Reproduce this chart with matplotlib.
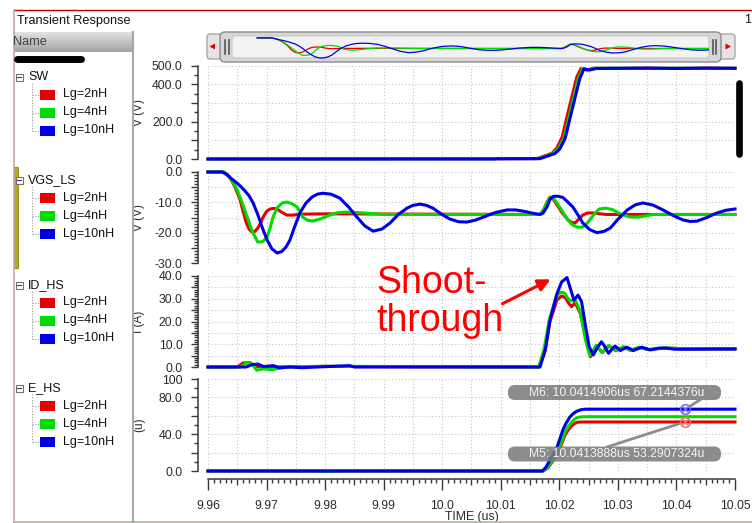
import numpy as np
import matplotlib.pyplot as plt
from matplotlib.patches import Rectangle, FancyBboxPatch, Polygon
from matplotlib.colors import LinearSegmentedColormap
from matplotlib.ticker import FixedLocator, MultipleLocator

plt.rcParams['font.family'] = ['Liberation Sans', 'DejaVu Sans']

# -------------------------------------------------------------
# Dados (tempo em us)
series_labels = ['Lg=2nH', 'Lg=4nH', 'Lg=10nH']
series_colors = ['#e80000', '#00dc00', '#0000e6']
group_names = ['SW', 'VGS_LS', 'ID_HS', 'E_HS']

# SW (V)
sw_t_2n = [9.96, 10.0162, 10.0180, 10.0188, 10.0196, 10.0205, 10.0213, 10.0222, 10.0230, 10.0237, 10.0247, 10.0258, 10.030, 10.035, 10.040, 10.045, 10.05]
sw_v_2n = [0, 2, 22, 32, 60, 118, 225, 340, 440, 483, 476, 485, 484, 486, 484, 486, 485]
sw_t_4n = [9.96, 10.0165, 10.0182, 10.0190, 10.0199, 10.0208, 10.0216, 10.0225, 10.0233, 10.0240, 10.0250, 10.0260, 10.030, 10.035, 10.040, 10.045, 10.05]
sw_v_4n = [0, 2, 21, 31, 58, 112, 218, 335, 436, 483, 476, 485, 486, 484, 486, 484, 485]
sw_t_10n = [9.96, 10.0090, 10.0092, 10.0167, 10.0184, 10.0193, 10.0201, 10.0210, 10.0218, 10.0227, 10.0235, 10.0242, 10.0252, 10.0263, 10.030, 10.035, 10.040, 10.045, 10.05]
sw_v_10n = [0, 0, 1, 2, 20, 30, 55, 110, 215, 330, 430, 482, 476, 484, 485, 486, 484, 486, 485]

# VGS_LS (V)
vgs_t_2n = [9.96, 9.9626, 9.9632, 9.9638, 9.9645, 9.9650, 9.9655, 9.9660, 9.9665, 9.9670, 9.9675, 9.9680, 9.9685, 9.9690,
            9.9694, 9.9700, 9.9706, 9.9712, 9.9718, 9.9726, 9.9735, 9.9745, 9.9757, 9.9800, 10.0167, 10.0173, 10.0179,
            10.0184, 10.0190, 10.0196, 10.0205, 10.0215, 10.0221, 10.0227, 10.0233, 10.0240, 10.0248, 10.0257, 10.0280, 10.05]
vgs_v_2n = [0, 0, -0.8, -2.0, -4.5, -6.8, -9.2, -13.0, -16.5, -18.8, -19.8, -19.6, -18.5, -16.8,
            -14.9, -13.0, -12.2, -12.0, -12.2, -13.3, -14.2, -14.2, -13.9, -13.8, -14.0, -12.5, -10.0,
            -8.3, -9.0, -10.8, -13.5, -15.8, -16.6, -16.8, -15.6, -14.2, -13.5, -13.5, -14.0, -14.0]
vgs_t_4n = [9.96, 9.9628, 9.9635, 9.9642, 9.9650, 9.9658, 9.9667, 9.9676, 9.9685, 9.9693, 9.9701, 9.9706, 9.9711, 9.9718,
            9.9727, 9.9735, 9.9744, 9.9752, 9.9762, 9.9770, 9.9779, 9.9793, 9.9808, 9.9822, 9.9837, 9.9851, 9.9865, 9.9900,
            10.0167, 10.0173, 10.0179, 10.0184, 10.0190, 10.0197, 10.0206, 10.0215, 10.0223, 10.0231, 10.0239, 10.0246,
            10.0252, 10.0260, 10.0268, 10.0280, 10.0292, 10.0300, 10.0309, 10.0320, 10.0333, 10.0347, 10.0360, 10.05]
vgs_v_4n = [0, 0, -1.2, -3.2, -5.9, -10.0, -14.9, -19.8, -23.1, -23.0, -21.5, -18.5, -14.9, -11.8,
            -10.2, -9.9, -10.5, -11.5, -14.9, -15.9, -16.2, -15.4, -14.2, -13.4, -13.2, -13.3, -13.5, -14.0,
            -14.0, -12.5, -10.0, -8.3, -8.6, -10.5, -13.2, -16.0, -17.5, -18.2, -18.2, -17.2,
            -15.8, -13.8, -12.2, -11.9, -12.5, -13.4, -14.2, -14.8, -14.9, -14.5, -14.0, -14.0]
vgs_t_10n = [9.96, 9.9624, 9.9632, 9.9640, 9.9648, 9.9655, 9.9662, 9.9670, 9.9677, 9.9685, 9.9693, 9.9701, 9.9709, 9.9718,
             9.9726, 9.9733, 9.9740, 9.9748, 9.9757, 9.9767, 9.9778, 9.9787, 9.9796, 9.9810, 9.9825, 9.9840, 9.9854, 9.9868,
             9.9882, 9.9897, 9.9911, 9.9925, 9.9940, 9.9950, 9.9962, 9.9973, 9.9984, 9.9998, 10.0013, 10.0028, 10.0042,
             10.0056, 10.0070, 10.0090, 10.0111, 10.0125, 10.0138, 10.0155, 10.0167, 10.0172, 10.0179, 10.0184, 10.0190,
             10.0198, 10.0206, 10.0214, 10.0223, 10.0232, 10.0240, 10.0252, 10.0264, 10.0276, 10.0287, 10.0300, 10.0316,
             10.0330, 10.0343, 10.0360, 10.0377, 10.0394, 10.0411, 10.0423, 10.0435, 10.0452, 10.0469, 10.0485, 10.05]
vgs_v_10n = [0, 0, -0.8, -2.2, -3.4, -4.6, -6.0, -7.8, -10.2, -14.0, -18.5, -22.4, -25.3, -26.7,
             -26.2, -24.8, -22.4, -18.0, -13.5, -10.3, -8.2, -7.3, -7.0, -7.3, -8.6, -11.5, -14.8, -17.8,
             -19.5, -18.8, -16.8, -14.0, -11.9, -11.0, -10.6, -11.0, -11.9, -13.8, -15.5, -16.4, -16.5,
             -15.9, -14.9, -13.4, -12.5, -12.5, -12.9, -13.6, -14.0, -13.6, -11.5, -9.0, -8.0,
             -8.0, -8.4, -9.8, -11.5, -14.2, -16.8, -19.0, -20.0, -19.6, -18.5, -15.6, -12.5,
             -10.8, -10.2, -10.9, -12.5, -14.3, -15.8, -16.3, -16.2, -15.0, -13.5, -12.6, -12.2]

# ID_HS (A)
id_t_2n = [9.96, 9.9650, 9.9660, 9.9672, 9.9680, 9.9700, 9.9800, 9.9850, 10.0165, 10.0176, 10.0184, 10.0196, 10.0204, 10.0210, 10.0216,
           10.0221, 10.0227, 10.0236, 10.0246, 10.0253, 10.0264, 10.0274, 10.0285, 10.0297, 10.0310, 10.0322, 10.0337, 10.0352,
           10.0380, 10.0420, 10.05]
id_v_2n = [0, 0, 1.8, 1.9, 0.3, 0, 0.3, 0.2, 0, 7.5, 20.0, 29.5, 31.2, 30.5, 28.0,
           26.5, 28.2, 23.5, 11.9, 4.5, 8.6, 6.5, 9.3, 7.2, 8.8, 7.4, 8.6, 7.7,
           8.3, 8.0, 8.0]
id_t_4n = [9.96, 9.9655, 9.9665, 9.9675, 9.9683, 9.9695, 9.9710, 9.9730, 9.9800, 10.0165, 10.0174, 10.0183, 10.0195, 10.0202, 10.0209,
           10.0215, 10.0221, 10.0227, 10.0235, 10.0245, 10.0252, 10.0263, 10.0273, 10.0284, 10.0296, 10.0309, 10.0321, 10.0336,
           10.0352, 10.0380, 10.0420, 10.05]
id_v_4n = [0, 0, 1.8, 1.5, -1.4, -0.8, -1.2, 0, 0.3, 0, 8.0, 21.0, 31.0, 32.9, 32.5,
           30.0, 29.0, 29.5, 25.0, 11.5, 5.0, 9.6, 6.3, 9.5, 7.1, 8.9, 7.3, 8.7,
           7.6, 8.4, 8.0, 8.0]
id_t_10n = [9.96, 9.9665, 9.9675, 9.9685, 9.9695, 9.9712, 9.9722, 9.9740, 9.9760, 9.9842, 9.9850, 10.0167, 10.0176, 10.0184, 10.0196,
            10.0204, 10.0213, 10.0218, 10.0225, 10.0232, 10.0238, 10.0244, 10.0251, 10.0258, 10.0265, 10.0272, 10.0278, 10.0284,
            10.0290, 10.0295, 10.0300, 10.0304, 10.0310, 10.0315, 10.0321, 10.0326, 10.0334, 10.0341, 10.0348, 10.0355,
            10.0370, 10.0383, 10.0397, 10.0411, 10.05]
id_v_10n = [0, 0, 1.0, 1.3, 0.2, 0.6, -0.4, 0, -0.3, 0.6, 0, 0, 7.5, 20.6, 32.3,
            37.4, 39.3, 35.2, 29.4, 31.6, 28.7, 19.1, 8.9, 5.3, 8.6, 11.1, 8.8, 6.0,
            7.9, 9.2, 8.2, 7.2, 8.0, 8.7, 8.0, 7.2, 8.0, 8.7, 8.1, 7.5,
            8.3, 8.3, 7.8, 7.8, 7.9]

# E_HS (u)
e_t_2n = [9.96, 10.0172, 10.0180, 10.0188, 10.0196, 10.0203, 10.0209, 10.0215, 10.0221, 10.0226, 10.0231, 10.0240, 10.05]
e_v_2n = [0, 0, 3, 10, 18, 28, 38, 44.5, 49, 51.6, 53, 53.3, 53.3]
e_t_4n = [9.96, 9.9790, 9.9792, 9.9815, 9.9817, 10.0173, 10.0179, 10.0188, 10.0196, 10.0203, 10.0209, 10.0215, 10.0221,
          10.0226, 10.0231, 10.0240, 10.05]
e_v_4n = [0, 0, -0.4, -0.4, 0, 0, 3, 11, 19.6, 30.5, 41, 48, 53, 56.2, 58.2, 59.0, 59.0]
e_t_10n = [9.96, 10.0171, 10.0177, 10.0184, 10.0190, 10.0196, 10.0201, 10.0206, 10.0212, 10.0218, 10.0224, 10.0230, 10.0237, 10.0244, 10.05]
e_v_10n = [0, 0, 4, 12, 18.5, 26, 35, 44.6, 52.5, 58.7, 62.5, 65, 66.6, 67.2, 67.2]

# Marcadores
m_names = ['M6', 'M5']
m_t = [10.0414906, 10.0413888]
m_v = [67.2144376, 53.2907324]
m_colors = ['#6a6aff', '#ff6a6a']

# Eixos: rótulos dos ticks
sw_label_at, sw_label_txt = [0, 200, 400, 500], ['0.0', '200.0', '400.0', '500.0']
vgs_label_at, vgs_label_txt = [-30, -20, -10, 0], ['-30.0', '-20.0', '-10.0', '0.0']
id_label_at, id_label_txt = [0, 10, 20, 30, 40], ['0.0', '10.0', '20.0', '30.0', '40.0']
e_label_at, e_label_txt = [0, 40, 80, 100], ['0.0', '40.0', '80.0', '100']
x_label_at = [9.96, 9.97, 9.98, 9.99, 10.0, 10.01, 10.02, 10.03, 10.04, 10.05]
x_label_txt = ['9.96', '9.97', '9.98', '9.99', '10.0', '10.01', '10.02', '10.03', '10.04', '10.05']

# -------------------------------------------------------------
W, H = 752, 523
fig = plt.figure(figsize=(W / 100, H / 100), dpi=100)
fig.patch.set_facecolor('white')


def box(x0, y0, x1, y1, **kw):
    # retângulo em pixels (origem no topo)
    return fig.add_axes([x0 / W, 1 - y1 / H, (x1 - x0) / W, (y1 - y0) / H], **kw)


X0, X1 = 208, 735
TXT = '#2a2a2a'
AXC = '#3a3a3a'

strips = [
    # topo, base, ylim, passo maior, passo menor, ylabel, dados, rótulos
    (65.5, 159, (0, 500), 100, 50, 'V (V)',
     [(sw_t_2n, sw_v_2n), (sw_t_4n, sw_v_4n), (sw_t_10n, sw_v_10n)], sw_label_at, sw_label_txt),
    (172, 263, (-30, 0), 5, 1, 'V (V)',
     [(vgs_t_2n, vgs_v_2n), (vgs_t_4n, vgs_v_4n), (vgs_t_10n, vgs_v_10n)], vgs_label_at, vgs_label_txt),
    (276, 367, (0, 40), 5, 1, 'I (A)',
     [(id_t_2n, id_v_2n), (id_t_4n, id_v_4n), (id_t_10n, id_v_10n)], id_label_at, id_label_txt),
    (379, 471, (0, 100), 20, 10, '(u)',
     [(e_t_2n, e_v_2n), (e_t_4n, e_v_4n), (e_t_10n, e_v_10n)], e_label_at, e_label_txt),
]

x_major = np.round(np.arange(9.96, 10.0501, 0.005), 3)
axes = []
for k, (top, bot, ylim, major, minor, ylab, data, lab_at, lab_txt) in enumerate(strips):
    ax = box(X0, top, X1, bot)
    ax.set_facecolor('none')
    ax.set_xlim(9.96, 10.05)
    ax.set_ylim(*ylim)
    ax.spines['top'].set_visible(False)
    ax.spines['right'].set_visible(False)
    ax.spines['left'].set_position(('outward', 7.2))
    ax.spines['left'].set_color(AXC)
    ax.spines['left'].set_linewidth(1.1)

    yt = np.arange(ylim[0], ylim[1] + major / 2, major)
    ax.yaxis.set_major_locator(FixedLocator(yt))
    labs = []
    for v in yt:
        hit = [t for a, t in zip(lab_at, lab_txt) if np.isclose(a, v)]
        labs.append(hit[0] if hit else '')
    ax.set_yticklabels(labs)
    ax.yaxis.set_minor_locator(MultipleLocator(minor))
    ax.tick_params(axis='y', which='major', length=5, width=1, color=AXC,
                   labelsize=8.8, labelcolor=TXT, pad=6)
    ax.tick_params(axis='y', which='minor', length=3, width=1, color=AXC)

    ax.xaxis.set_major_locator(FixedLocator(x_major))
    ax.grid(True, which='major', color='#c4c4c4', linestyle=(0, (1, 2)), linewidth=0.8)
    ax.set_axisbelow(True)

    if k < 3:
        ax.spines['bottom'].set_visible(False)
        ax.tick_params(axis='x', which='both', length=0, labelbottom=False)
    else:
        ax.spines['bottom'].set_position(('outward', 5.8))
        ax.spines['bottom'].set_color(AXC)
        ax.spines['bottom'].set_linewidth(1.1)
        xl = []
        for v in x_major:
            hit = [t for a, t in zip(x_label_at, x_label_txt) if np.isclose(a, v)]
            xl.append(hit[0] if hit else '')
        ax.set_xticklabels(xl)
        ax.xaxis.set_minor_locator(MultipleLocator(0.001))
        ax.tick_params(axis='x', which='major', length=8, width=1, color=AXC,
                       labelsize=8.8, labelcolor=TXT, pad=7)
        ax.tick_params(axis='x', which='minor', length=3, width=1, color=AXC)
        for j, tk in enumerate(ax.xaxis.get_major_ticks()):
            if j % 2 == 1:
                tk.tick1line.set_markersize(4.5)
        ax.set_xlabel('TIME (us)', fontsize=8.8, color=TXT)
        ax.xaxis.set_label_coords(0.5, -(517 - bot) / (bot - top))
        ax.xaxis.label.set_va('center')

    ax.set_ylabel(ylab, fontsize=8.5, color=TXT)
    ax.yaxis.set_label_coords((139 - X0) / (X1 - X0), 0.5)
    ax.yaxis.label.set_va('center')

    for (t, v), c in zip(data, series_colors):
        ax.plot(t, v, color=c, lw=2.2, clip_on=False, solid_joinstyle='round', zorder=3)
    axes.append(ax)

ax_e = axes[3]
for t, v, c in zip(m_t, m_v, m_colors):
    ax_e.plot(t, v, 'o', ms=7, mfc='none', mec=c, mew=1.1, clip_on=False, zorder=5)
    ax_e.plot(t, v, 'x', ms=5, mec=c, mew=1.0, clip_on=False, zorder=5)

# -------------------------------------------------------------
# Cabeçalho "Name"
hdr = box(14, 32, 133, 52)
hdr.imshow(np.linspace(0, 1, 32)[:, None], aspect='auto', extent=(0, 1, 0, 1),
           cmap=LinearSegmentedColormap.from_list('hdr', ['#e2e2e2', '#a4a4a4']))
hdr.axis('off')

# Camada de sobreposição em pixels
ov = fig.add_axes([0, 0, 1, 1])
ov.set_xlim(0, W)
ov.set_ylim(H, 0)
ov.axis('off')
ov.set_zorder(10)

# moldura
ov.plot([14, W], [10, 10], color='#b80000', lw=1.0)
ov.plot([14, 14], [10, 522], color='#c8a8a8', lw=1.2)
ov.plot([14, W], [522, 522], color='#c8a8a8', lw=1.2)
ov.plot([133, 133], [32, 522], color='#a8a8a8', lw=1.5)

ov.text(17, 21, 'Transient Response', fontsize=9.2, color='#111111', va='center', ha='left')
ov.text(744, 20, '1', fontsize=9, color='#111111', va='center', ha='left')
ov.text(13, 42, 'Name', fontsize=9.2, color='#404040', va='center', ha='left')

ov.plot([17, 81], [58.5, 58.5], color='black', lw=5, solid_capstyle='round')
ov.add_patch(Rectangle((14, 167), 3.5, 101, fc='#b0a820', ec='#8a8400', lw=0.6))

# árvore de sinais
group_y = [77, 180, 285, 388]
for name, hy in zip(group_names, group_y):
    ov.add_patch(Rectangle((15.5, hy - 3.5), 7, 7, fc='white', ec='#707070', lw=0.8))
    ov.plot([17, 21], [hy, hy], color='#404040', lw=0.8)
    ov.text(28, hy, name, fontsize=9, color='#111111', va='center', ha='left')
    ys = [hy + 17.5 + 18 * i for i in range(len(series_labels))]
    ov.plot([31.5, 31.5], [hy + 6, ys[-1]], color='#9a9a9a', lw=0.8, ls=(0, (1, 1.5)))
    for y, lab, c in zip(ys, series_labels, series_colors):
        ov.plot([31.5, 39], [y, y], color='#9a9a9a', lw=0.8, ls=(0, (1, 1.5)))
        ov.add_patch(Rectangle((40, y - 5), 15, 10, fc=c, ec='none'))
        ov.text(63, y, lab, fontsize=9, color='#111111', va='center', ha='left')

# barra de rolagem superior
ov.add_patch(FancyBboxPatch((207, 34), 528, 25, boxstyle='round,pad=0,rounding_size=3',
                            fc='#e4e4e4', ec='#a8a8a8', lw=1))
ov.add_patch(FancyBboxPatch((220, 32), 501, 30, boxstyle='round,pad=0,rounding_size=5',
                            fc='#d6d6d6', ec='#8c8c8c', lw=1))
ov.add_patch(FancyBboxPatch((232, 36), 477, 22, boxstyle='round,pad=0,rounding_size=3',
                            fc='#f3f3f3', ec='#c8c8c8', lw=0.8))
for hx in [225, 228.5, 712.5, 716]:
    ov.plot([hx, hx], [40, 54], color='#555555', lw=1.2)
ov.add_patch(Polygon([(209.5, 46.5), (215, 43.5), (215, 49.5)], closed=True, fc='#e00000', ec='none'))
ov.add_patch(Polygon([(731, 46.5), (725.5, 43.5), (725.5, 49.5)], closed=True, fc='#e00000', ec='none'))

mini = box(232, 36, 709, 60)
mini.set_zorder(11)
mini.set_xlim(9.9553, 10.0443)
mini.set_ylim(-29.2, 2.5)
mini.axis('off')
for (t, v), c in zip([(vgs_t_2n, vgs_v_2n), (vgs_t_4n, vgs_v_4n), (vgs_t_10n, vgs_v_10n)], series_colors):
    mini.plot(t, v, color=c, lw=0.9)

# barra preta à direita
ov.plot([738.5, 738.5], [83, 154], color='black', lw=4.8, solid_capstyle='round')

# caixas dos marcadores
m_box_y = [392.5, 454]
m_anchor = [(703, 398), (607, 447)]
for name, t, v, by, anc in zip(m_names, m_t, m_v, m_box_y, m_anchor):
    ov.annotate('', xy=(t, v), xycoords=ax_e.transData, xytext=anc, textcoords='data',
                arrowprops=dict(arrowstyle='-', color='#8c8c8c', lw=2, shrinkA=0, shrinkB=4))
    ov.add_patch(FancyBboxPatch((508, by - 7.5), 213, 15, boxstyle='round,pad=0,rounding_size=7',
                                fc='#7c7c7c', ec='none', alpha=0.88))
    ov.text(529, by, f'{name}: {t:.7f}us {v:.7f}u', fontsize=8.7, color='#f4f4f4',
            va='center', ha='left')

# anotação shoot-through
ov.text(376, 265, 'Shoot-\nthrough', fontsize=27, color='#ff0000', va='top', ha='left', linespacing=1.08)
ov.annotate('', xy=(553, 278), xytext=(500, 305), textcoords='data',
            arrowprops=dict(arrowstyle='-|>', color='#ff0000', lw=2.2, mutation_scale=18))

fig.savefig('out.png', dpi=100)
